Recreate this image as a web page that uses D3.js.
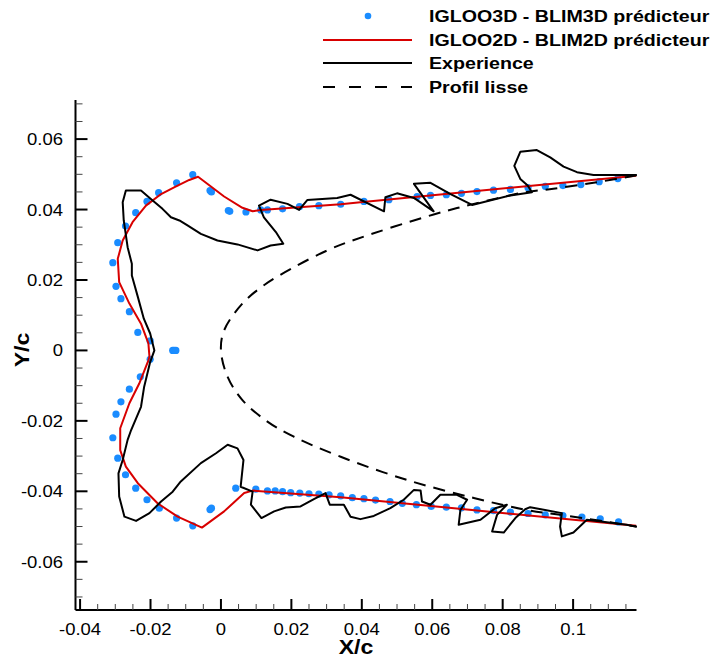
<!DOCTYPE html>
<html><head><meta charset="utf-8">
<script src="https://cdn.jsdelivr.net/npm/d3@7"></script>
<style>html,body{margin:0;padding:0;background:#fff;}</style>
</head><body>
<svg id="chart" width="716" height="659"></svg>
<script>
// ---------- data ----------
const seriesNames = ["IGLOO3D - BLIM3D prédicteur", "IGLOO2D - BLIM2D prédicteur", "Experience", "Profil lisse"];

const igloo3D = [
  [0.1127,0.0488],[0.1074,0.0479],[0.1022,0.0471],[0.0971,0.0468],[0.0921,0.0466],[0.0872,0.0462],
  [0.0822,0.0457],[0.0774,0.0455],[0.0727,0.0451],[0.0683,0.0446],[0.0640,0.0442],[0.0595,0.0440],
  [0.0557,0.0437],[0.0477,0.0428],[0.0406,0.0423],[0.0340,0.0415],[0.0278,0.0411],[0.0223,0.0408],
  [0.0175,0.0402],[0.0132,0.0399],[0.0113,0.0399],[0.0071,0.0393],[0.0025,0.0395],[0.0021,0.0397],
  [-0.0031,0.0454],[-0.0027,0.0450],[-0.0080,0.0499],[-0.0126,0.0476],[-0.0177,0.0448],[-0.0210,0.0423],
  [-0.0242,0.0391],[-0.0271,0.0353],[-0.0293,0.0306],[-0.0307,0.0249],[-0.0298,0.0182],[-0.0284,0.0147],
  [-0.0260,0.0110],[-0.0236,0.0051],[-0.0201,0.0027],
  [-0.0137,0.0],[-0.0133,0.0],[-0.0128,0.0],
  [-0.0201,-0.0025],[-0.0229,-0.0075],[-0.0260,-0.0110],[-0.0284,-0.0146],[-0.0298,-0.0181],[-0.0307,-0.0248],
  [-0.0293,-0.0306],[-0.0271,-0.0353],[-0.0242,-0.0391],[-0.0210,-0.0424],[-0.0175,-0.0448],[-0.0126,-0.0476],
  [-0.0080,-0.0498],[-0.0031,-0.0452],[-0.0027,-0.0448],[0.0042,-0.0391],[0.0099,-0.0394],[0.0132,-0.0399],
  [0.0154,-0.0399],[0.0175,-0.0401],[0.0198,-0.0404],[0.0224,-0.0405],[0.0250,-0.0407],[0.0278,-0.0408],
  [0.0307,-0.0410],[0.0340,-0.0413],[0.0373,-0.0418],[0.0406,-0.0421],[0.0439,-0.0425],[0.0480,-0.0429],
  [0.0515,-0.0434],[0.0555,-0.0438],[0.0597,-0.0443],[0.0640,-0.0445],[0.0683,-0.0447],[0.0727,-0.0453],
  [0.0774,-0.0455],[0.0822,-0.0459],[0.0872,-0.0463],[0.0921,-0.0467],[0.0971,-0.0469],[0.1025,-0.0473],
  [0.1077,-0.0478],[0.1129,-0.0487]
];

const igloo2D = [
  [0.1179,0.0496],[0.0396,0.0421],[0.0340,0.0415],[0.0113,0.0399],[0.0090,0.0395],[0.0061,0.0405],
  [0.0009,0.0437],[-0.0065,0.0493],[-0.0090,0.0484],[-0.0133,0.0463],[-0.0170,0.0444],[-0.0213,0.0411],
  [-0.0251,0.0364],[-0.0279,0.0312],[-0.0293,0.0260],[-0.0289,0.0194],[-0.0260,0.0133],[-0.0227,0.0076],
  [-0.0206,0.0020],[-0.0203,-0.0018],[-0.0206,-0.0028],[-0.0232,-0.0094],[-0.0260,-0.0150],[-0.0286,-0.0221],
  [-0.0286,-0.0283],[-0.0270,-0.0330],[-0.0236,-0.0377],[-0.0180,-0.0434],[-0.0123,-0.0472],[-0.0054,-0.0503],
  [0.0009,-0.0457],[0.0066,-0.0405],[0.0090,-0.0398],[0.0340,-0.0417],[0.1179,-0.0498]
];

const experience = [
  [0.1181,0.0498],[0.1058,0.0498],[0.1011,0.0506],[0.0973,0.0522],[0.0935,0.0548],[0.0897,0.0569],
  [0.0850,0.0564],[0.0833,0.0524],[0.0850,0.0487],[0.0871,0.0468],[0.0883,0.0449],[0.0822,0.0440],
  [0.0713,0.0413],[0.0652,0.0444],[0.0595,0.0476],[0.0548,0.0473],[0.0604,0.0395],[0.0548,0.0433],
  [0.0500,0.0446],[0.0467,0.0435],[0.0463,0.0395],[0.0368,0.0442],[0.0330,0.0433],[0.0245,0.0427],
  [0.0222,0.0399],[0.0189,0.0416],[0.0141,0.0428],[0.0108,0.0411],[0.0122,0.0378],[0.0156,0.0336],
  [0.0177,0.0303],[0.0141,0.0298],[0.0104,0.0284],[0.0047,0.0301],[-0.0010,0.0312],[-0.0057,0.0331],
  [-0.0095,0.0355],[-0.0118,0.0369],[-0.0142,0.0378],[-0.0166,0.0402],[-0.0199,0.0430],[-0.0227,0.0454],
  [-0.0270,0.0454],[-0.0279,0.0421],[-0.0276,0.0369],[-0.0265,0.0293],[-0.0253,0.0246],[-0.0253,0.0213],
  [-0.0236,0.0152],[-0.0219,0.0090],[-0.0201,0.0048],[-0.0189,0.0],[-0.0201,-0.0033],[-0.0218,-0.0103],
  [-0.0227,-0.0160],[-0.0255,-0.0226],[-0.0265,-0.0254],[-0.0279,-0.0311],[-0.0291,-0.0349],[-0.0289,-0.0415],
  [-0.0274,-0.0472],[-0.0241,-0.0484],[-0.0203,-0.0462],[-0.0170,-0.0429],[-0.0137,-0.0401],[-0.0114,-0.0372],
  [-0.0057,-0.0320],[-0.0014,-0.0292],[0.0019,-0.0268],[0.0047,-0.0278],[0.0064,-0.0311],[0.0056,-0.0387],
  [0.0090,-0.0401],[0.0085,-0.0438],[0.0115,-0.0476],[0.0151,-0.0457],[0.0184,-0.0446],[0.0226,-0.0443],
  [0.0264,-0.0422],[0.0297,-0.0405],[0.0309,-0.0438],[0.0349,-0.0438],[0.0368,-0.0472],[0.0396,-0.0479],
  [0.0434,-0.0470],[0.0481,-0.0448],[0.0519,-0.0424],[0.0548,-0.0396],[0.0567,-0.0398],[0.0571,-0.0429],
  [0.0595,-0.0438],[0.0623,-0.0410],[0.0670,-0.0410],[0.0699,-0.0424],[0.0680,-0.0453],[0.0675,-0.0495],
  [0.0737,-0.0481],[0.0779,-0.0448],[0.0812,-0.0438],[0.0784,-0.0467],[0.0770,-0.0514],[0.0803,-0.0517],
  [0.0836,-0.0476],[0.0864,-0.0451],[0.0878,-0.0445],[0.0968,-0.0462],[0.0963,-0.0500],[0.0968,-0.0528],
  [0.1001,-0.0517],[0.1039,-0.0481],[0.1152,-0.0495],[0.1181,-0.0501]
];

const profilLisse = [
  [0.1180,0.0497],[0.1058,0.0476],[0.0944,0.0459],[0.0869,0.0450],[0.0718,0.0416],[0.0604,0.0386],
  [0.0373,0.0312],[0.0302,0.0284],[0.0207,0.0236],[0.0122,0.0185],[0.0061,0.0133],[0.0009,0.0057],
  [0.0,0.0],
  [0.0019,-0.0075],[0.0061,-0.0141],[0.0132,-0.0202],[0.0207,-0.0245],[0.0340,-0.0302],[0.0529,-0.0368],
  [0.0718,-0.0419],[0.0869,-0.0453],[0.1001,-0.0472],[0.1180,-0.0500]
];

const xTickValues = [-0.04,-0.02,0,0.02,0.04,0.06,0.08,0.1];
const xTickLabels = ["-0.04","-0.02","0","0.02","0.04","0.06","0.08","0.1"];
const yTickValues = [-0.06,-0.04,-0.02,0,0.02,0.04,0.06];
const yTickLabels = ["-0.06","-0.04","-0.02","0","0.02","0.04","0.06"];
const xMinorTicks = d3.range(-0.04, 0.1151, 0.005);
const yMinorTicks = d3.range(-0.07, 0.0701, 0.005);

// ---------- layout ----------
const svg = d3.select("#chart");
const x = d3.scaleLinear().domain([-0.0413, 0.118]).range([75.5, 636.5]);
const y = d3.scaleLinear().domain([-0.0737, 0.0711]).range([610, 100]);
const blue = "#1a8cff", red = "#d80000";
const SX = 1.155; // horizontal stretch of the original lettering
const font = "'Liberation Sans', Arial, Helvetica, sans-serif";

// axes lines
const g = svg.append("g");
g.append("line").attr("x1", x(-0.0413)).attr("x2", x(-0.0413)).attr("y1", y(0.0711)).attr("y2", y(-0.0737))
  .attr("stroke", "#000").attr("stroke-width", 2);
g.append("line").attr("x1", x(-0.0413)).attr("x2", x(0.118)).attr("y1", y(-0.0737)).attr("y2", y(-0.0737))
  .attr("stroke", "#000").attr("stroke-width", 2);

// minor ticks
const x0 = x(-0.0413), yb = y(-0.0737);
xMinorTicks.forEach(v => {
  if (xTickValues.some(t => Math.abs(t - v) < 1e-6)) return;
  g.append("line").attr("x1", x(v)).attr("x2", x(v)).attr("y1", yb).attr("y2", yb - 6)
    .attr("stroke", "#444").attr("stroke-width", 1);
});
yMinorTicks.forEach(v => {
  if (yTickValues.some(t => Math.abs(t - v) < 1e-6)) return;
  g.append("line").attr("x1", x0).attr("x2", x0 + 7).attr("y1", y(v)).attr("y2", y(v))
    .attr("stroke", "#444").attr("stroke-width", 1);
});
// major ticks + labels
xTickValues.forEach((v, i) => {
  g.append("line").attr("x1", x(v)).attr("x2", x(v)).attr("y1", yb).attr("y2", yb - 11)
    .attr("stroke", "#000").attr("stroke-width", 2);
  g.append("text").attr("transform", `translate(${x(v)},635) scale(${SX},1)`)
    .attr("text-anchor", "middle").attr("font-family", font).attr("font-size", 16)
    .text(xTickLabels[i]);
});
yTickValues.forEach((v, i) => {
  g.append("line").attr("x1", x0).attr("x2", x0 + 12).attr("y1", y(v)).attr("y2", y(v))
    .attr("stroke", "#000").attr("stroke-width", 2);
  g.append("text").attr("transform", `translate(63,${y(v) + 6}) scale(${SX},1)`)
    .attr("text-anchor", "end").attr("font-family", font).attr("font-size", 16)
    .text(yTickLabels[i]);
});
// axis titles
svg.append("text").attr("transform", `translate(356,654) scale(${SX},1)`)
  .attr("text-anchor", "middle").attr("font-family", font).attr("font-size", 20).attr("font-weight", "bold")
  .text("X/c");
svg.append("text").attr("transform", `translate(29,350) rotate(-90) scale(${SX},1)`)
  .attr("text-anchor", "middle").attr("font-family", font).attr("font-size", 20).attr("font-weight", "bold")
  .text("Y/c");

// ---------- series ----------
const line = d3.line().x(d => x(d[0])).y(d => y(d[1]));
const smooth = d3.line().x(d => x(d[0])).y(d => y(d[1])).curve(d3.curveCatmullRom.alpha(0.5));

svg.append("g").selectAll("circle").data(igloo3D).join("circle")
  .attr("cx", d => x(d[0])).attr("cy", d => y(d[1])).attr("r", 3.6).attr("fill", blue);

svg.append("path").datum(igloo2D).attr("d", line).attr("fill", "none")
  .attr("stroke", red).attr("stroke-width", 2).attr("stroke-linejoin", "round");
svg.append("path").datum(experience).attr("d", line).attr("fill", "none")
  .attr("stroke", "#000").attr("stroke-width", 2).attr("stroke-linejoin", "round");
svg.append("path").datum(profilLisse).attr("d", smooth).attr("fill", "none")
  .attr("stroke", "#000").attr("stroke-width", 2).attr("stroke-dasharray", "12,8");

// ---------- legend ----------
const leg = svg.append("g");
const rows = [16, 40, 63, 87];
leg.append("circle").attr("cx", 368).attr("cy", rows[0]).attr("r", 3.3).attr("fill", blue);
leg.append("line").attr("x1", 323).attr("x2", 412).attr("y1", rows[1]).attr("y2", rows[1])
  .attr("stroke", red).attr("stroke-width", 2);
leg.append("line").attr("x1", 323).attr("x2", 412).attr("y1", rows[2]).attr("y2", rows[2])
  .attr("stroke", "#000").attr("stroke-width", 2);
leg.append("line").attr("x1", 323).attr("x2", 412).attr("y1", rows[3]).attr("y2", rows[3])
  .attr("stroke", "#000").attr("stroke-width", 2).attr("stroke-dasharray", "12,14");
seriesNames.forEach((s, i) => {
  leg.append("text").attr("transform", `translate(429,${rows[i] + 6}) scale(${SX},1)`)
    .attr("font-family", font).attr("font-size", 17).attr("font-weight", "bold").text(s);
});
</script>
</body></html>
